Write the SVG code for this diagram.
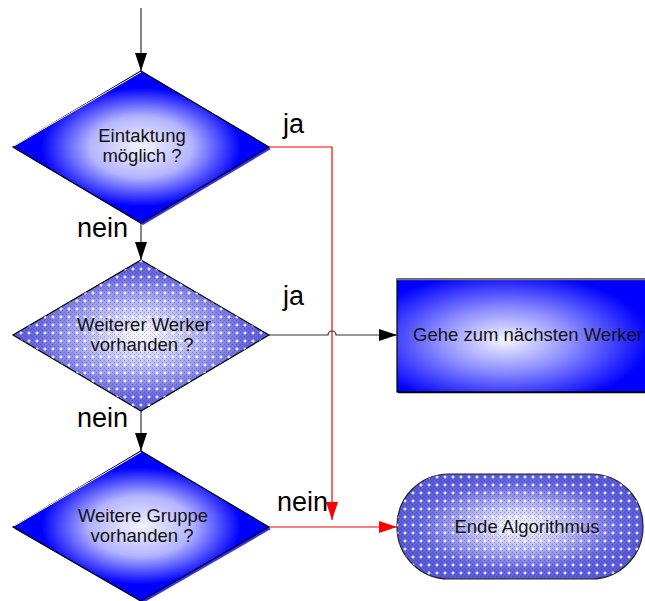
<svg xmlns="http://www.w3.org/2000/svg" width="645" height="601" viewBox="0 0 645 601">
  <style>
    .node-text { font-family: "Liberation Sans", Arial, sans-serif; font-size: 18.5px; fill: #111; text-anchor: middle; }
    .label { font-family: "Liberation Sans", Arial, sans-serif; font-size: 27px; fill: #000; }
    .outline { stroke: #000; stroke-width: 1.2; }
    .flow { fill: none; stroke: #333; stroke-width: 1.2; }
    .flow-red { fill: none; stroke: #ff0000; stroke-width: 1.2; }
  </style>
  <defs>
    <radialGradient id="blueGlow" cx="50%" cy="50%" r="50%">
      <stop offset="0" stop-color="#f4f4ff"/>
      <stop offset="0.4" stop-color="#b4b4ff"/>
      <stop offset="0.78" stop-color="#0000ff"/>
      <stop offset="1" stop-color="#0000ff"/>
    </radialGradient>
    <radialGradient id="rectGlow" gradientUnits="userSpaceOnUse" cx="0" cy="0" r="1" gradientTransform="translate(505 340) scale(145 68)">
      <stop offset="0" stop-color="#f6f6ff"/>
      <stop offset="0.45" stop-color="#9090ff"/>
      <stop offset="1" stop-color="#0000ff"/>
    </radialGradient>
    <radialGradient id="softGlow" cx="50%" cy="50%" r="50%">
      <stop offset="0" stop-color="#ffffff"/>
      <stop offset="0.4" stop-color="#babaf2"/>
      <stop offset="0.8" stop-color="#6a6ade"/>
      <stop offset="1" stop-color="#5a5ad6"/>
    </radialGradient>
    <pattern id="dots" patternUnits="userSpaceOnUse" width="8" height="8">
      <rect x="0" y="0" width="1" height="1" fill="#3030c0" fill-opacity="0.3"/>
      <rect x="2" y="2" width="1" height="1" fill="#3030c0" fill-opacity="0.3"/>
      <rect x="4" y="0" width="1" height="1" fill="#3030c0" fill-opacity="0.3"/>
      <rect x="6" y="2" width="1" height="1" fill="#3030c0" fill-opacity="0.3"/>
      <rect x="0" y="4" width="1" height="1" fill="#3030c0" fill-opacity="0.3"/>
      <rect x="2" y="6" width="1" height="1" fill="#3030c0" fill-opacity="0.3"/>
      <rect x="6" y="6" width="1" height="1" fill="#3030c0" fill-opacity="0.3"/>
      <rect x="4.5" y="3" width="1" height="4" fill="#ffffff" fill-opacity="0.65"/>
      <rect x="3" y="4.5" width="4" height="1" fill="#ffffff" fill-opacity="0.65"/>
      <rect x="4" y="4" width="2" height="2" fill="#ffffff" fill-opacity="0.6"/>
    </pattern>
    <marker id="arrowBlack" markerWidth="18" markerHeight="12" refX="18" refY="6" orient="auto" markerUnits="userSpaceOnUse">
      <path d="M0,0 L18,6 L0,12 Z" fill="#000"/>
    </marker>
    <marker id="arrowRed" markerWidth="18" markerHeight="12" refX="18" refY="6" orient="auto" markerUnits="userSpaceOnUse">
      <path d="M0,0 L18,6 L0,12 Z" fill="#ff0000"/>
    </marker>
  </defs>

  <rect width="645" height="601" fill="#ffffff"/>

  <!-- connectors -->
  <g id="connectors">
    <path class="flow" d="M141,8 L141,71" marker-end="url(#arrowBlack)"/>
    <path class="flow" d="M141,223 L141,260" marker-end="url(#arrowBlack)"/>
    <path class="flow" d="M141,411 L141,451" marker-end="url(#arrowBlack)"/>
    <path class="flow-red" d="M269,147 L332,147 L332,520" marker-end="url(#arrowRed)"/>
    <path class="flow" d="M269,335 L328,335 A4,4 0 0 1 336,335 L397,335" marker-end="url(#arrowBlack)"/>
    <path class="flow-red" d="M269,527 L397,527" marker-end="url(#arrowRed)"/>
  </g>

  <!-- decision: Eintaktung möglich ? -->
  <g id="decision-eintaktung">
    <polygon points="143,73 271,149 143,225 15,149" fill="#3030ff"/>
    <polygon class="outline" points="141,71 269,147 141,223 13,147" fill="url(#blueGlow)"/>
    <path d="M14,146 L141,72" stroke="#fff" stroke-width="1" fill="none"/>
    <text class="node-text" x="142" y="142">Eintaktung</text>
    <text class="node-text" x="142" y="162">möglich ?</text>
  </g>

  <!-- decision: Weiterer Werker vorhanden ? -->
  <g id="decision-werker">
    <polygon class="outline" points="141,260 269,335 141,411 13,335" fill="url(#softGlow)"/>
    <polygon points="141,260 269,335 141,411 13,335" fill="url(#dots)"/>
    <text class="node-text" x="144" y="331">Weiterer Werker</text>
    <text class="node-text" x="142" y="351">vorhanden ?</text>
  </g>

  <!-- decision: Weitere Gruppe vorhanden ? -->
  <g id="decision-gruppe">
    <polygon points="143,453 271,529 143,603 15,529" fill="#3030ff"/>
    <polygon class="outline" points="141,451 269,527 141,601 13,527" fill="url(#blueGlow)"/>
    <path d="M14,526 L141,452" stroke="#fff" stroke-width="1" fill="none"/>
    <text class="node-text" x="143" y="522">Weitere Gruppe</text>
    <text class="node-text" x="142" y="542">vorhanden ?</text>
  </g>

  <!-- process: Gehe zum nächsten Werker -->
  <g id="process-next-worker">
    <rect x="397" y="279" width="260" height="113" fill="url(#rectGlow)" stroke="#000" stroke-width="1.2"/>
    <line x1="397" y1="279.5" x2="645" y2="279.5" stroke="#777" stroke-width="1.5"/>
    <line x1="398" y1="392.5" x2="645" y2="392.5" stroke="#000" stroke-width="1.5"/>
    <text class="node-text" x="528" y="341">Gehe zum nächsten Werker</text>
  </g>

  <!-- terminator: Ende Algorithmus -->
  <g id="terminator-end">
    <rect x="397" y="474" width="246" height="105" rx="52" ry="52" fill="url(#softGlow)" stroke="#222" stroke-width="1.2"/>
    <rect x="397" y="474" width="246" height="105" rx="52" ry="52" fill="url(#dots)"/>
    <text class="node-text" x="527" y="533">Ende Algorithmus</text>
  </g>

  <!-- branch labels -->
  <g id="labels">
    <text class="label" x="283" y="133">ja</text>
    <text class="label" x="77" y="237">nein</text>
    <text class="label" x="283" y="305">ja</text>
    <text class="label" x="77" y="427">nein</text>
    <text class="label" x="277" y="511">nein</text>
  </g>
</svg>
